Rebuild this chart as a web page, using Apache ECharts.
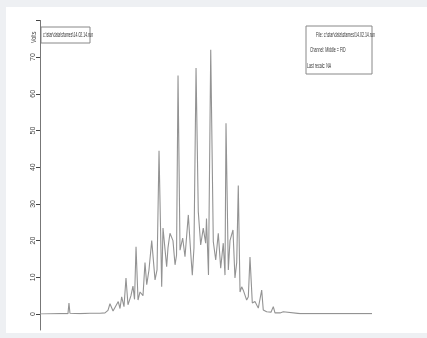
<!DOCTYPE html>
<html><head><meta charset="utf-8">
<script src="https://cdn.jsdelivr.net/npm/echarts@6/dist/echarts.min.js"></script>
<style>
html,body{margin:0;padding:0;background:#eef0f3;width:427px;height:338px;overflow:hidden}
#c{position:absolute;left:6px;top:7px;width:421px;height:326px;background:#fff}
#chart{position:absolute;left:0;top:0;width:427px;height:338px}
</style></head>
<body><div id="c"></div><div id="chart"></div>
<script>
// retention time (min) and detector response (Volts)
var times = [0,2.41,3.37,3.49,3.61,4.82,6.02,7.23,7.83,8.19,8.43,8.80,9.04,9.43,9.64,9.84,10.12,10.36,10.60,10.72,10.96,11.20,11.39,11.57,11.81,12.05,12.25,12.41,12.65,12.86,13.13,13.46,13.86,14.10,14.34,14.66,14.82,15.26,15.42,15.66,15.87,16.02,16.27,16.45,16.63,16.87,17.19,17.47,17.87,18.16,18.35,18.55,18.80,19.07,19.36,19.67,19.96,20.06,20.30,20.57,20.88,21.17,21.48,21.77,22.08,22.29,22.41,22.69,22.89,23.01,23.25,23.49,23.70,23.89,24.10,24.30,24.49,24.61,24.90,25.10,25.30,25.58,25.90,26.30,26.71,26.90,27.31,27.83,28.11,28.31,28.92,29.31,29.52,31.33,40];
var volts = [0,0.1,0.1,3,0.2,0.1,0.2,0.2,0.3,1,2.8,0.8,1,3.4,1.5,4.7,2,9.8,2.5,2,5,7.6,4,18.3,3.8,6,6.5,5,14,8,12,20,9.3,12,44.5,7.4,23.4,12.9,18,22,21.5,20,13.4,16,65,17.4,20.7,15.6,27,16.6,10.6,18,67,27.9,18.8,23.4,19.3,26,10.6,72,19.7,14.7,22,12.5,19.3,10.6,52,12,20,20,22.9,9.8,14,35,6,7.4,6.5,6,3.8,4.7,15.5,3,3.4,1.6,6.5,1.1,0.6,0.5,2,0.3,0.3,0.6,0.2,0.1,0.1];
var yTicks = [0,10,20,30,40,50,60,70];
var legendText = 'c:\\star\\data\\sfames\\14.02.14.run';
var infoLines = ['File: c:\\star\\data\\sfames\\14.02.14.run','Channel: Middle = FID','Last recalc: NA'];

var pts = times.map(function(t,i){return [t, volts[i]];});
var fnt = '"Liberation Sans",Arial,sans-serif';
var chart = echarts.init(document.getElementById('chart'), null, {renderer:'canvas'});
chart.setOption({
  animation:false,
  backgroundColor:'transparent',
  grid:[{left:40,right:55,top:20.4,bottom:24},{left:40,width:10,top:20.4,bottom:8}],
  xAxis:[{type:'value',min:0,max:40,show:false,gridIndex:0},{type:'value',min:0,max:1,show:false,gridIndex:1}],
  yAxis:[{type:'value',min:0,max:80,interval:10,gridIndex:0,
    axisLine:{show:false},
    axisTick:{show:true,length:4,lineStyle:{color:'#444',width:1}},
    splitLine:{show:false},
    axisLabel:{rotate:90,fontSize:7,color:'#444',margin:3,fontFamily:fnt,
      formatter:function(v){return yTicks.indexOf(v)>=0?String(v):'';}}},
    {type:'value',min:0,max:1,gridIndex:1,axisLine:{show:true,lineStyle:{color:'#777',width:1}},
      axisTick:{show:false},axisLabel:{show:false},splitLine:{show:false}}],
  series:[{type:'line',data:pts,xAxisIndex:0,yAxisIndex:0,symbol:'none',
    lineStyle:{color:'#939393',width:1.1},z:3}],
  graphic:[
    {type:'text',x:31,y:43,rotation:Math.PI/2,scaleX:0.75,style:{text:'Volts',fill:'#444',font:'7px '+fnt}},
    {type:'rect',shape:{x:41,y:27,width:49,height:16},style:{fill:'#fff',stroke:'#888',lineWidth:1}},
    {type:'text',x:43,y:31.5,scaleX:0.5,style:{text:legendText,fill:'#333',font:'7px '+fnt}},
    {type:'rect',shape:{x:306,y:26,width:66,height:48},style:{fill:'#fff',stroke:'#888',lineWidth:1}},
    {type:'text',x:316,y:32,scaleX:0.55,style:{text:infoLines[0],fill:'#333',font:'6.5px '+fnt}},
    {type:'text',x:310,y:47,scaleX:0.55,style:{text:infoLines[1],fill:'#333',font:'6.5px '+fnt}},
    {type:'text',x:307,y:63,scaleX:0.55,style:{text:infoLines[2],fill:'#333',font:'6.5px '+fnt}}
  ]
});
</script></body></html>
